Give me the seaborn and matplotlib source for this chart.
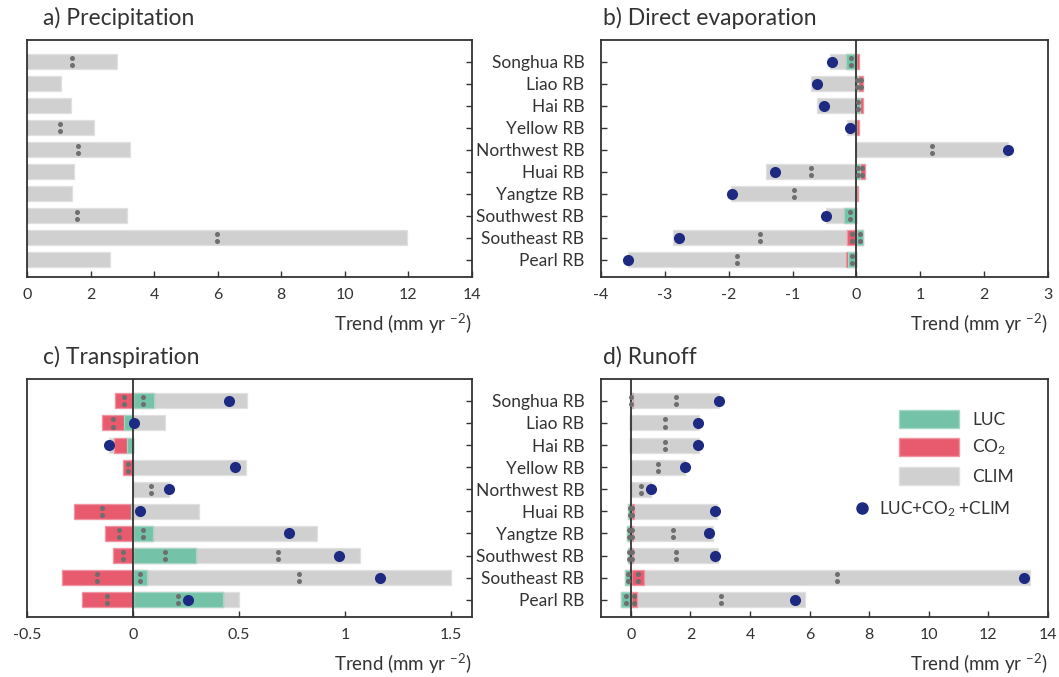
import numpy as np
import seaborn as sns
import matplotlib.pyplot as plt
from matplotlib.patches import Patch
from matplotlib.lines import Line2D
from matplotlib.ticker import FuncFormatter
from matplotlib.colors import to_rgb

#-----------------------------------------------------------------------------------------------------------------------
"""Data (trends, mm yr-2), basins listed top to bottom"""
basins = ['Songhua RB', 'Liao RB', 'Hai RB', 'Yellow RB', 'Northwest RB',
          'Huai RB', 'Yangtze RB', 'Southwest RB', 'Southeast RB', 'Pearl RB']

# a) Precipitation - climate only
pre_clim = [2.84, 1.08, 1.39, 2.10, 3.23, 1.47, 1.42, 3.16, 11.96, 2.62]
pre_clim_sig = [1, 0, 0, 1, 1, 0, 0, 1, 1, 0]

# b) Direct evaporation
ev_luc = [-0.17, 0.03, 0.06, 0.00, 0.00, 0.05, 0.00, -0.19, 0.10, -0.13]
ev_co2 = [0.04, 0.07, 0.04, 0.04, 0.00, 0.09, 0.02, 0.00, -0.14, -0.03]
ev_clim = [-0.25, -0.71, -0.61, -0.14, 2.38, -1.42, -1.97, -0.28, -2.74, -3.41]
ev_luc_sig = [1, 1, 1, 0, 0, 1, 0, 1, 1, 1]
ev_co2_sig = [0, 1, 0, 0, 0, 1, 0, 0, 1, 0]
ev_clim_sig = [0, 0, 0, 0, 1, 1, 1, 0, 1, 1]

# c) Transpiration
tr_luc = [0.098, -0.042, -0.028, 0.0, 0.0, -0.011, 0.094, 0.299, 0.065, 0.427]
tr_co2 = [-0.085, -0.106, -0.062, -0.049, 0.0, -0.269, -0.134, -0.096, -0.337, -0.241]
tr_clim = [0.442, 0.153, -0.023, 0.532, 0.172, 0.313, 0.776, 0.771, 1.437, 0.075]
tr_luc_sig = [1, 0, 0, 0, 0, 0, 1, 1, 1, 1]
tr_co2_sig = [1, 1, 0, 1, 0, 1, 1, 1, 1, 1]
tr_clim_sig = [0, 0, 0, 0, 1, 0, 0, 1, 1, 0]

# d) Runoff
ro_luc = [0.03, -0.03, -0.02, 0.0, 0.0, -0.08, -0.14, -0.11, -0.19, -0.34]
ro_co2 = [0.03, 0.0, 0.0, 0.0, 0.02, 0.11, 0.09, 0.09, 0.45, 0.22]
ro_clim = [2.91, 2.29, 2.28, 1.82, 0.65, 2.78, 2.66, 2.83, 12.95, 5.64]
ro_luc_sig = [1, 0, 0, 0, 0, 1, 1, 1, 1, 1]
ro_co2_sig = [0, 0, 0, 0, 0, 1, 1, 1, 1, 1]
ro_clim_sig = [1, 1, 1, 1, 1, 0, 1, 1, 1, 1]

#-----------------------------------------------------------------------------------------------------------------------
"""Style"""
sns.set_theme(style='ticks')
plt.rcParams['font.family'] = ['Lato', 'DejaVu Sans']
plt.rcParams['mathtext.default'] = 'regular'

GREEN = '#74c2a8'
RED = '#e85a6e'
GREY = '#d0d0d0'
NAVY = '#1e2a82'
SIGC = '#6e6e6e'
INK = '#333333'


def lighten(c, f=0.35):
    r, g, b = to_rgb(c)
    return (r + (1 - r) * f, g + (1 - g) * f, b + (1 - b) * f)


#-----------------------------------------------------------------------------------------------------------------------
"""Helpers"""
def stacked_bars(ax, luc, co2, clim):
    # cumulative levels on each side of zero, drawn from zero longest first
    comps = [np.asarray(luc, float), np.asarray(co2, float), np.asarray(clim, float)]
    cols = [GREEN, RED, GREY]
    pos_levels, neg_levels = [], []
    pos = np.zeros(len(basins))
    neg = np.zeros(len(basins))
    for v in comps:
        pos = pos + np.clip(v, 0, None)
        neg = neg + np.clip(v, None, 0)
        pos_levels.append(pos.copy())
        neg_levels.append(neg.copy())
    for levels in (pos_levels, neg_levels):
        for lev, col in zip(levels[::-1], cols[::-1]):
            sns.barplot(x=lev, y=basins, orient='h', color=col, saturation=1,
                        width=0.68, errorbar=None, edgecolor=lighten(col),
                        linewidth=0.9, ax=ax, zorder=2)


def sig_marks(ax, comps, sigs):
    pos = np.zeros(len(basins))
    neg = np.zeros(len(basins))
    for v, s in zip(comps, sigs):
        v = np.asarray(v, float)
        start = np.where(v >= 0, pos, neg)
        centre = start + v / 2
        pos = pos + np.clip(v, 0, None)
        neg = neg + np.clip(v, None, 0)
        idx = np.flatnonzero(np.asarray(s) == 1)
        for dy in (-0.16, 0.16):
            ax.scatter(centre[idx], idx + dy, s=13, color=SIGC, linewidths=0, zorder=4)


def style(ax, xlim, ticks, labels_left):
    ax.set_xlim(xlim)
    ax.set_xticks(ticks)
    ax.xaxis.set_major_formatter(FuncFormatter(lambda v, p: f'{v:g}'))
    ax.set_ylim(9.78, -0.99)
    for sp in ax.spines.values():
        sp.set_visible(True)
        sp.set_color(INK)
        sp.set_linewidth(1.3)
    ax.tick_params(axis='x', direction='in', length=4, width=1, colors=INK,
                   labelsize=11.5, pad=8, top=False)
    ax.tick_params(axis='y', direction='in', length=4, width=1, colors=INK,
                   labelsize=12.5, pad=12)
    if not labels_left:
        ax.yaxis.tick_right()
        ax.tick_params(axis='y', labelright=False, labelleft=False)
    ax.set_xlabel('Trend (mm yr $^{-2}$)', loc='right', fontsize=13.5, color=INK, labelpad=7)
    ax.set_ylabel('')


#-----------------------------------------------------------------------------------------------------------------------
"""Figure"""
W, H = 1059, 677
fig = plt.figure(figsize=(W / 100, H / 100), dpi=100)
fig.patch.set_facecolor('white')

ax_a = fig.add_axes([27 / W, 1 - 277 / H, 445 / W, 237 / H])
ax_b = fig.add_axes([601 / W, 1 - 277 / H, 447 / W, 237 / H])
ax_c = fig.add_axes([27 / W, 1 - 617 / H, 445 / W, 238 / H])
ax_d = fig.add_axes([601 / W, 1 - 617 / H, 447 / W, 238 / H])

zeros = [0.0] * len(basins)

# a) Precipitation
stacked_bars(ax_a, zeros, zeros, pre_clim)
sig_marks(ax_a, [zeros, zeros, pre_clim], [zeros, zeros, pre_clim_sig])
style(ax_a, (0, 14), np.arange(0, 15, 2), labels_left=False)

# b) Direct evaporation, c) Transpiration, d) Runoff
panels = [
    (ax_b, ev_luc, ev_co2, ev_clim, ev_luc_sig, ev_co2_sig, ev_clim_sig, (-4, 3), np.arange(-4, 4, 1), True),
    (ax_c, tr_luc, tr_co2, tr_clim, tr_luc_sig, tr_co2_sig, tr_clim_sig, (-0.5, 1.6), [-0.5, 0, 0.5, 1, 1.5], False),
    (ax_d, ro_luc, ro_co2, ro_clim, ro_luc_sig, ro_co2_sig, ro_clim_sig, (-1, 14), np.arange(0, 15, 2), True),
]
for ax, luc, co2, clim, s1, s2, s3, xl, tk, left in panels:
    stacked_bars(ax, luc, co2, clim)
    sig_marks(ax, [luc, co2, clim], [s1, s2, s3])
    total = np.asarray(luc) + np.asarray(co2) + np.asarray(clim)
    sns.stripplot(x=total, y=basins, orient='h', jitter=False, color=NAVY, size=8,
                  linewidth=0, zorder=5, ax=ax)
    ax.axvline(0, color=INK, lw=1.3, zorder=3)
    style(ax, xl, tk, labels_left=left)

#-----------------------------------------------------------------------------------------------------------------------
"""Legend"""
h1 = [Patch(facecolor=GREEN, edgecolor=lighten(GREEN)),
      Patch(facecolor=RED, edgecolor=lighten(RED)),
      Patch(facecolor=GREY, edgecolor=lighten(GREY))]
leg1 = ax_d.legend(h1, ['LUC', 'CO$_2$', 'CLIM'], loc='upper left', bbox_to_anchor=(0.667, 0.868),
                   frameon=False, fontsize=12.5, handlelength=3.45, handleheight=1.2,
                   handletextpad=0.75, labelspacing=0.55, borderpad=0, borderaxespad=0, labelcolor=INK)
ax_d.add_artist(leg1)
h2 = [Line2D([], [], marker='o', ls='', color=NAVY, markersize=8)]
ax_d.legend(h2, ['LUC+CO$_2$ +CLIM'], loc='center left', bbox_to_anchor=(0.565, 0.455),
            frameon=False, fontsize=12.3, handlelength=1, handletextpad=0.5,
            borderpad=0, borderaxespad=0, labelcolor=INK)

#-----------------------------------------------------------------------------------------------------------------------
"""Titles"""
fig.text(43 / W, 1 - 18 / H, 'a) Precipitation', fontsize=16.5, color=INK, va='center')
fig.text(603 / W, 1 - 18 / H, 'b) Direct evaporation', fontsize=16.5, color=INK, va='center')
fig.text(43 / W, 1 - 357 / H, 'c) Transpiration', fontsize=16.5, color=INK, va='center')
fig.text(603 / W, 1 - 357 / H, 'd) Runoff', fontsize=16.5, color=INK, va='center')

fig.savefig('out.png', dpi=100)
